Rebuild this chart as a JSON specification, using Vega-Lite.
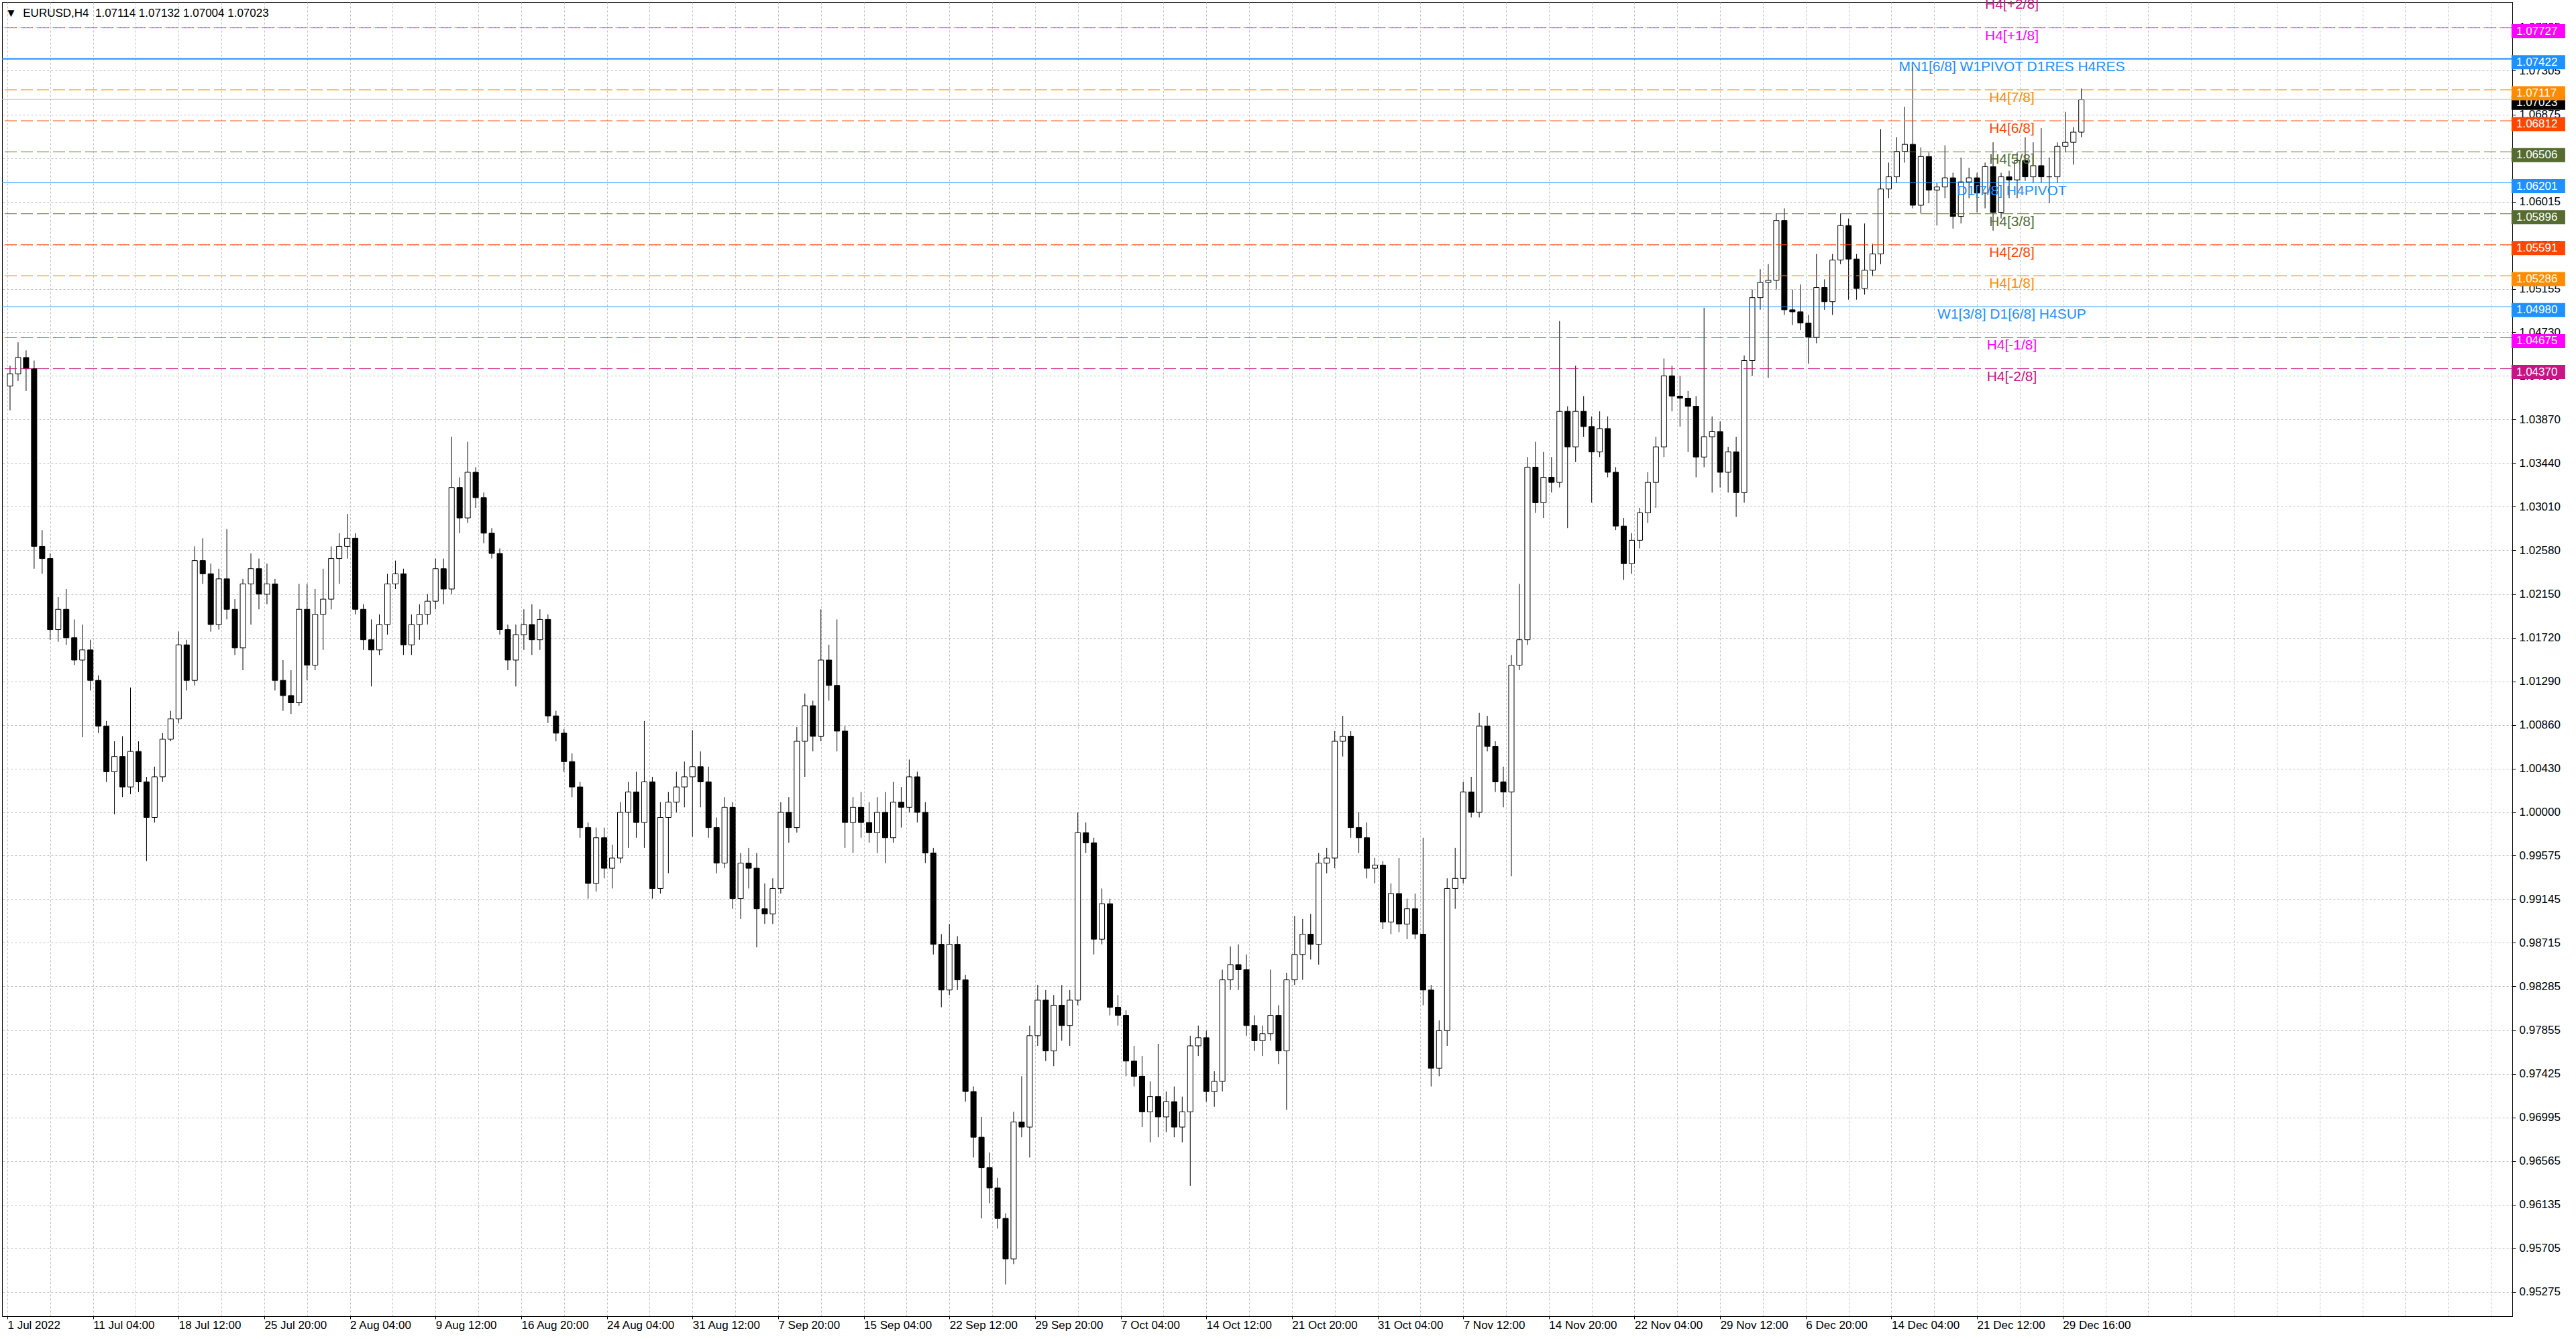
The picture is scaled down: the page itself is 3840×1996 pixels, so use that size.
{
"$schema": "https://vega.github.io/schema/vega-lite/v6.json",
"width": 3742,
"height": 1959,
"autosize": {"type": "none"},
"padding": {"left": 3, "top": 3, "right": 95, "bottom": 34},
"background": "white",
"title": {"text": "▼\u00a0\u00a0EURUSD,H4\u00a0\u00a01.07114 1.07132 1.07004 1.07023", "anchor": "start", "frame": "group", "orient": "top", "offset": -47, "baseline": "alphabetic", "dx": 5, "font": "Liberation Sans", "fontSize": 17, "fontWeight": "normal", "color": "black"},
"datasets": {
"levels": [
{"name": "+2/8", "price": 1.08032, "label": "H4[+2/8]", "kind": "dash"},
{"name": "+1/8", "price": 1.07727, "label": "H4[+1/8]", "kind": "dash"},
{"name": "8/8", "price": 1.07422, "label": "MN1[6/8] W1PIVOT D1RES H4RES", "kind": "solid"},
{"name": "7/8", "price": 1.07117, "label": "H4[7/8]", "kind": "dash"},
{"name": "6/8", "price": 1.06812, "label": "H4[6/8]", "kind": "dash"},
{"name": "5/8", "price": 1.06506, "label": "H4[5/8]", "kind": "dash"},
{"name": "4/8", "price": 1.06201, "label": "D1[7/8] H4PIVOT", "kind": "solid"},
{"name": "3/8", "price": 1.05896, "label": "H4[3/8]", "kind": "dash"},
{"name": "2/8", "price": 1.05591, "label": "H4[2/8]", "kind": "dash"},
{"name": "1/8", "price": 1.05286, "label": "H4[1/8]", "kind": "dash"},
{"name": "0/8", "price": 1.0498, "label": "W1[3/8] D1[6/8] H4SUP", "kind": "solid"},
{"name": "-1/8", "price": 1.04675, "label": "H4[-1/8]", "kind": "dash"},
{"name": "-2/8", "price": 1.0437, "label": "H4[-2/8]", "kind": "dash"}
],
"bid": [{"price": 1.07023}],
"candles": [
{"bar":1,"o":1.0420,"h":1.0440,"l":1.0396,"c":1.0432},
{"bar":4,"o":1.0432,"h":1.0463,"l":1.0425,"c":1.0448},
{"bar":7,"o":1.0448,"h":1.0455,"l":1.0415,"c":1.0437},
{"bar":10,"o":1.0437,"h":1.0445,"l":1.0240,"c":1.0262},
{"bar":13,"o":1.0262,"h":1.0278,"l":1.0235,"c":1.0250},
{"bar":16,"o":1.0250,"h":1.0255,"l":1.0170,"c":1.0180},
{"bar":19,"o":1.0180,"h":1.0212,"l":1.0168,"c":1.0200},
{"bar":22,"o":1.0200,"h":1.0220,"l":1.0165,"c":1.0172},
{"bar":25,"o":1.0172,"h":1.0190,"l":1.0145,"c":1.0150},
{"bar":28,"o":1.0150,"h":1.0185,"l":1.0074,"c":1.0160},
{"bar":31,"o":1.0160,"h":1.0170,"l":1.0120,"c":1.0130},
{"bar":34,"o":1.0130,"h":1.0135,"l":1.0078,"c":1.0085},
{"bar":37,"o":1.0085,"h":1.0090,"l":1.0030,"c":1.0040},
{"bar":40,"o":1.0040,"h":1.0070,"l":0.9998,"c":1.0055},
{"bar":43,"o":1.0055,"h":1.0075,"l":1.0015,"c":1.0025},
{"bar":46,"o":1.0025,"h":1.0123,"l":1.0018,"c":1.0060},
{"bar":49,"o":1.0060,"h":1.0070,"l":1.0020,"c":1.0030},
{"bar":52,"o":1.0030,"h":1.0035,"l":0.9952,"c":0.9995},
{"bar":55,"o":0.9995,"h":1.0045,"l":0.9990,"c":1.0035},
{"bar":58,"o":1.0035,"h":1.0078,"l":1.0030,"c":1.0072},
{"bar":61,"o":1.0072,"h":1.0100,"l":1.0070,"c":1.0092},
{"bar":64,"o":1.0092,"h":1.0178,"l":1.0088,"c":1.0165},
{"bar":67,"o":1.0165,"h":1.0170,"l":1.0120,"c":1.0130},
{"bar":70,"o":1.0130,"h":1.0262,"l":1.0125,"c":1.0248},
{"bar":73,"o":1.0248,"h":1.0270,"l":1.0225,"c":1.0235},
{"bar":76,"o":1.0235,"h":1.0245,"l":1.0178,"c":1.0185},
{"bar":79,"o":1.0185,"h":1.0240,"l":1.0180,"c":1.0230},
{"bar":82,"o":1.0230,"h":1.0279,"l":1.0190,"c":1.0200},
{"bar":85,"o":1.0200,"h":1.0210,"l":1.0155,"c":1.0162},
{"bar":88,"o":1.0162,"h":1.0230,"l":1.0140,"c":1.0225},
{"bar":91,"o":1.0225,"h":1.0255,"l":1.0185,"c":1.0240},
{"bar":94,"o":1.0240,"h":1.0250,"l":1.0200,"c":1.0215},
{"bar":97,"o":1.0215,"h":1.0245,"l":1.0205,"c":1.0225},
{"bar":100,"o":1.0225,"h":1.0230,"l":1.0120,"c":1.0130},
{"bar":103,"o":1.0130,"h":1.0150,"l":1.0100,"c":1.0115},
{"bar":106,"o":1.0115,"h":1.0140,"l":1.0097,"c":1.0108},
{"bar":109,"o":1.0108,"h":1.0225,"l":1.0105,"c":1.0200},
{"bar":112,"o":1.0200,"h":1.0225,"l":1.0130,"c":1.0145},
{"bar":115,"o":1.0145,"h":1.0220,"l":1.0140,"c":1.0195},
{"bar":118,"o":1.0195,"h":1.0240,"l":1.0160,"c":1.0210},
{"bar":121,"o":1.0210,"h":1.0262,"l":1.0200,"c":1.0250},
{"bar":124,"o":1.0250,"h":1.0275,"l":1.0225,"c":1.0262},
{"bar":127,"o":1.0262,"h":1.0294,"l":1.0250,"c":1.0270},
{"bar":130,"o":1.0270,"h":1.0275,"l":1.0195,"c":1.0200},
{"bar":133,"o":1.0200,"h":1.0205,"l":1.0160,"c":1.0170},
{"bar":136,"o":1.0170,"h":1.0190,"l":1.0124,"c":1.0160},
{"bar":139,"o":1.0160,"h":1.0195,"l":1.0155,"c":1.0185},
{"bar":142,"o":1.0185,"h":1.0235,"l":1.0175,"c":1.0225},
{"bar":145,"o":1.0225,"h":1.0248,"l":1.0220,"c":1.0235},
{"bar":148,"o":1.0235,"h":1.0240,"l":1.0155,"c":1.0165},
{"bar":151,"o":1.0165,"h":1.0195,"l":1.0155,"c":1.0185},
{"bar":154,"o":1.0185,"h":1.0205,"l":1.0170,"c":1.0195},
{"bar":157,"o":1.0195,"h":1.0215,"l":1.0185,"c":1.0208},
{"bar":160,"o":1.0208,"h":1.0250,"l":1.0200,"c":1.0240},
{"bar":163,"o":1.0240,"h":1.0250,"l":1.0205,"c":1.0220},
{"bar":166,"o":1.0220,"h":1.0370,"l":1.0215,"c":1.0320},
{"bar":169,"o":1.0320,"h":1.0330,"l":1.0275,"c":1.0290},
{"bar":172,"o":1.0290,"h":1.0365,"l":1.0285,"c":1.0335},
{"bar":175,"o":1.0335,"h":1.0340,"l":1.0300,"c":1.0310},
{"bar":178,"o":1.0310,"h":1.0315,"l":1.0265,"c":1.0275},
{"bar":181,"o":1.0275,"h":1.0280,"l":1.0250,"c":1.0255},
{"bar":184,"o":1.0255,"h":1.0260,"l":1.0175,"c":1.0180},
{"bar":187,"o":1.0180,"h":1.0185,"l":1.0140,"c":1.0150},
{"bar":190,"o":1.0150,"h":1.0185,"l":1.0124,"c":1.0175},
{"bar":193,"o":1.0175,"h":1.0200,"l":1.0160,"c":1.0185},
{"bar":196,"o":1.0185,"h":1.0205,"l":1.0155,"c":1.0170},
{"bar":199,"o":1.0170,"h":1.0200,"l":1.0160,"c":1.0190},
{"bar":202,"o":1.0190,"h":1.0195,"l":1.0088,"c":1.0095},
{"bar":205,"o":1.0095,"h":1.0100,"l":1.0070,"c":1.0078},
{"bar":208,"o":1.0078,"h":1.0082,"l":1.0040,"c":1.0050},
{"bar":211,"o":1.0050,"h":1.0058,"l":1.0015,"c":1.0025},
{"bar":214,"o":1.0025,"h":1.0030,"l":0.9975,"c":0.9985},
{"bar":217,"o":0.9985,"h":0.9990,"l":0.9915,"c":0.9930},
{"bar":220,"o":0.9930,"h":0.9985,"l":0.9922,"c":0.9975},
{"bar":223,"o":0.9975,"h":0.9985,"l":0.9935,"c":0.9945},
{"bar":226,"o":0.9945,"h":0.9968,"l":0.9925,"c":0.9955},
{"bar":229,"o":0.9955,"h":1.0010,"l":0.9950,"c":1.0000},
{"bar":232,"o":1.0000,"h":1.0030,"l":0.9965,"c":1.0020},
{"bar":235,"o":1.0020,"h":1.0040,"l":0.9975,"c":0.9990},
{"bar":238,"o":0.9990,"h":1.0090,"l":0.9965,"c":1.0030},
{"bar":241,"o":1.0030,"h":1.0035,"l":0.9915,"c":0.9925},
{"bar":244,"o":0.9925,"h":1.0010,"l":0.9920,"c":0.9995},
{"bar":247,"o":0.9995,"h":1.0020,"l":0.9940,"c":1.0010},
{"bar":250,"o":1.0010,"h":1.0040,"l":1.0000,"c":1.0025},
{"bar":253,"o":1.0025,"h":1.0050,"l":1.0005,"c":1.0035},
{"bar":256,"o":1.0035,"h":1.0081,"l":0.9976,"c":1.0045},
{"bar":259,"o":1.0045,"h":1.0060,"l":1.0005,"c":1.0030},
{"bar":262,"o":1.0030,"h":1.0045,"l":0.9975,"c":0.9985},
{"bar":265,"o":0.9985,"h":0.9995,"l":0.9940,"c":0.9950},
{"bar":268,"o":0.9950,"h":1.0015,"l":0.9945,"c":1.0005},
{"bar":271,"o":1.0005,"h":1.0010,"l":0.9905,"c":0.9915},
{"bar":274,"o":0.9915,"h":0.9960,"l":0.9895,"c":0.9950},
{"bar":277,"o":0.9950,"h":0.9965,"l":0.9925,"c":0.9945},
{"bar":280,"o":0.9945,"h":0.9960,"l":0.9867,"c":0.9905},
{"bar":283,"o":0.9905,"h":0.9930,"l":0.9890,"c":0.9900},
{"bar":286,"o":0.9900,"h":0.9935,"l":0.9890,"c":0.9925},
{"bar":289,"o":0.9925,"h":1.0010,"l":0.9920,"c":1.0000},
{"bar":292,"o":1.0000,"h":1.0015,"l":0.9970,"c":0.9985},
{"bar":295,"o":0.9985,"h":1.0084,"l":0.9980,"c":1.0070},
{"bar":298,"o":1.0070,"h":1.0117,"l":1.0035,"c":1.0105},
{"bar":301,"o":1.0105,"h":1.0110,"l":1.0060,"c":1.0075},
{"bar":304,"o":1.0075,"h":1.0200,"l":1.0070,"c":1.0150},
{"bar":307,"o":1.0150,"h":1.0165,"l":1.0110,"c":1.0125},
{"bar":310,"o":1.0125,"h":1.0190,"l":1.0060,"c":1.0080},
{"bar":313,"o":1.0080,"h":1.0085,"l":0.9965,"c":0.9990},
{"bar":316,"o":0.9990,"h":1.0015,"l":0.9960,"c":1.0005},
{"bar":319,"o":1.0005,"h":1.0020,"l":0.9975,"c":0.9990},
{"bar":322,"o":0.9990,"h":1.0010,"l":0.9970,"c":0.9980},
{"bar":325,"o":0.9980,"h":1.0015,"l":0.9960,"c":1.0000},
{"bar":328,"o":1.0000,"h":1.0020,"l":0.9950,"c":0.9975},
{"bar":331,"o":0.9975,"h":1.0030,"l":0.9970,"c":1.0010},
{"bar":334,"o":1.0010,"h":1.0025,"l":0.9985,"c":1.0005},
{"bar":337,"o":1.0005,"h":1.0052,"l":1.0000,"c":1.0035},
{"bar":340,"o":1.0035,"h":1.0040,"l":0.9990,"c":1.0000},
{"bar":343,"o":1.0000,"h":1.0010,"l":0.9950,"c":0.9960},
{"bar":346,"o":0.9960,"h":0.9965,"l":0.9860,"c":0.9870},
{"bar":349,"o":0.9870,"h":0.9880,"l":0.9808,"c":0.9825},
{"bar":352,"o":0.9825,"h":0.9890,"l":0.9820,"c":0.9870},
{"bar":355,"o":0.9870,"h":0.9878,"l":0.9825,"c":0.9835},
{"bar":358,"o":0.9835,"h":0.9840,"l":0.9715,"c":0.9725},
{"bar":361,"o":0.9725,"h":0.9730,"l":0.9660,"c":0.9680},
{"bar":364,"o":0.9680,"h":0.9700,"l":0.9600,"c":0.9650},
{"bar":367,"o":0.9650,"h":0.9665,"l":0.9615,"c":0.9630},
{"bar":370,"o":0.9630,"h":0.9640,"l":0.9590,"c":0.9600},
{"bar":373,"o":0.9600,"h":0.9605,"l":0.9535,"c":0.9560},
{"bar":376,"o":0.9560,"h":0.9705,"l":0.9555,"c":0.9695},
{"bar":379,"o":0.9695,"h":0.9740,"l":0.9680,"c":0.9690},
{"bar":382,"o":0.9690,"h":0.9790,"l":0.9660,"c":0.9780},
{"bar":385,"o":0.9780,"h":0.9830,"l":0.9770,"c":0.9815},
{"bar":388,"o":0.9815,"h":0.9825,"l":0.9755,"c":0.9765},
{"bar":391,"o":0.9765,"h":0.9820,"l":0.9750,"c":0.9810},
{"bar":394,"o":0.9810,"h":0.9830,"l":0.9775,"c":0.9790},
{"bar":397,"o":0.9790,"h":0.9825,"l":0.9770,"c":0.9815},
{"bar":400,"o":0.9815,"h":1.0000,"l":0.9810,"c":0.9980},
{"bar":403,"o":0.9980,"h":0.9990,"l":0.9960,"c":0.9970},
{"bar":406,"o":0.9970,"h":0.9975,"l":0.9860,"c":0.9875},
{"bar":409,"o":0.9875,"h":0.9925,"l":0.9870,"c":0.9910},
{"bar":412,"o":0.9910,"h":0.9915,"l":0.9800,"c":0.9808},
{"bar":415,"o":0.9808,"h":0.9820,"l":0.9790,"c":0.9800},
{"bar":418,"o":0.9800,"h":0.9805,"l":0.9740,"c":0.9755},
{"bar":421,"o":0.9755,"h":0.9770,"l":0.9730,"c":0.9740},
{"bar":424,"o":0.9740,"h":0.9760,"l":0.9690,"c":0.9705},
{"bar":427,"o":0.9705,"h":0.9735,"l":0.9675,"c":0.9720},
{"bar":430,"o":0.9720,"h":0.9772,"l":0.9680,"c":0.9700},
{"bar":433,"o":0.9700,"h":0.9725,"l":0.9685,"c":0.9715},
{"bar":436,"o":0.9715,"h":0.9730,"l":0.9680,"c":0.9690},
{"bar":439,"o":0.9690,"h":0.9720,"l":0.9675,"c":0.9705},
{"bar":442,"o":0.9705,"h":0.9780,"l":0.9632,"c":0.9770},
{"bar":445,"o":0.9770,"h":0.9790,"l":0.9760,"c":0.9778},
{"bar":448,"o":0.9778,"h":0.9785,"l":0.9715,"c":0.9725},
{"bar":451,"o":0.9725,"h":0.9745,"l":0.9710,"c":0.9735},
{"bar":454,"o":0.9735,"h":0.9845,"l":0.9725,"c":0.9835},
{"bar":457,"o":0.9835,"h":0.9868,"l":0.9825,"c":0.9850},
{"bar":460,"o":0.9850,"h":0.9870,"l":0.9825,"c":0.9845},
{"bar":463,"o":0.9845,"h":0.9860,"l":0.9780,"c":0.9790},
{"bar":466,"o":0.9790,"h":0.9800,"l":0.9765,"c":0.9775},
{"bar":469,"o":0.9775,"h":0.9790,"l":0.9760,"c":0.9782},
{"bar":472,"o":0.9782,"h":0.9845,"l":0.9775,"c":0.9800},
{"bar":475,"o":0.9800,"h":0.9810,"l":0.9752,"c":0.9765},
{"bar":478,"o":0.9765,"h":0.9842,"l":0.9707,"c":0.9835},
{"bar":481,"o":0.9835,"h":0.9898,"l":0.9830,"c":0.9860},
{"bar":484,"o":0.9860,"h":0.9895,"l":0.9835,"c":0.9880},
{"bar":487,"o":0.9880,"h":0.9900,"l":0.9855,"c":0.9870},
{"bar":490,"o":0.9870,"h":0.9960,"l":0.9850,"c":0.9950},
{"bar":493,"o":0.9950,"h":0.9965,"l":0.9940,"c":0.9955},
{"bar":496,"o":0.9955,"h":1.0080,"l":0.9945,"c":1.0070},
{"bar":499,"o":1.0070,"h":1.0095,"l":1.0055,"c":1.0075},
{"bar":502,"o":1.0075,"h":1.0080,"l":0.9975,"c":0.9985},
{"bar":505,"o":0.9985,"h":1.0000,"l":0.9960,"c":0.9975},
{"bar":508,"o":0.9975,"h":0.9990,"l":0.9935,"c":0.9945},
{"bar":511,"o":0.9945,"h":0.9955,"l":0.9930,"c":0.9948},
{"bar":514,"o":0.9948,"h":0.9952,"l":0.9885,"c":0.9892},
{"bar":517,"o":0.9892,"h":0.9930,"l":0.9880,"c":0.9920},
{"bar":520,"o":0.9920,"h":0.9955,"l":0.9882,"c":0.9890},
{"bar":523,"o":0.9890,"h":0.9915,"l":0.9875,"c":0.9905},
{"bar":526,"o":0.9905,"h":0.9920,"l":0.9875,"c":0.9880},
{"bar":529,"o":0.9880,"h":0.9975,"l":0.9810,"c":0.9825},
{"bar":532,"o":0.9825,"h":0.9830,"l":0.9730,"c":0.9748},
{"bar":535,"o":0.9748,"h":0.9795,"l":0.9740,"c":0.9785},
{"bar":538,"o":0.9785,"h":0.9935,"l":0.9770,"c":0.9925},
{"bar":541,"o":0.9925,"h":0.9965,"l":0.9905,"c":0.9935},
{"bar":544,"o":0.9935,"h":1.0030,"l":0.9930,"c":1.0020},
{"bar":547,"o":1.0020,"h":1.0035,"l":0.9995,"c":1.0000},
{"bar":550,"o":1.0000,"h":1.0098,"l":0.9995,"c":1.0085},
{"bar":553,"o":1.0085,"h":1.0095,"l":1.0060,"c":1.0065},
{"bar":556,"o":1.0065,"h":1.0070,"l":1.0020,"c":1.0030},
{"bar":559,"o":1.0030,"h":1.0045,"l":1.0005,"c":1.0020},
{"bar":562,"o":1.0020,"h":1.0155,"l":0.9937,"c":1.0145},
{"bar":565,"o":1.0145,"h":1.0225,"l":1.0140,"c":1.0170},
{"bar":568,"o":1.0170,"h":1.0350,"l":1.0165,"c":1.0340},
{"bar":571,"o":1.0340,"h":1.0365,"l":1.0295,"c":1.0305},
{"bar":574,"o":1.0305,"h":1.0355,"l":1.0290,"c":1.0330},
{"bar":577,"o":1.0330,"h":1.0350,"l":1.0315,"c":1.0325},
{"bar":580,"o":1.0325,"h":1.0484,"l":1.0320,"c":1.0395},
{"bar":583,"o":1.0395,"h":1.0400,"l":1.0280,"c":1.0360},
{"bar":586,"o":1.0360,"h":1.0440,"l":1.0345,"c":1.0395},
{"bar":589,"o":1.0395,"h":1.0410,"l":1.0370,"c":1.0380},
{"bar":592,"o":1.0380,"h":1.0390,"l":1.0305,"c":1.0355},
{"bar":595,"o":1.0355,"h":1.0395,"l":1.0350,"c":1.0378},
{"bar":598,"o":1.0378,"h":1.0390,"l":1.0330,"c":1.0335},
{"bar":601,"o":1.0335,"h":1.0340,"l":1.0278,"c":1.0282},
{"bar":604,"o":1.0282,"h":1.0290,"l":1.0229,"c":1.0245},
{"bar":607,"o":1.0245,"h":1.0275,"l":1.0235,"c":1.0268},
{"bar":610,"o":1.0268,"h":1.0300,"l":1.0260,"c":1.0295},
{"bar":613,"o":1.0295,"h":1.0335,"l":1.0285,"c":1.0325},
{"bar":616,"o":1.0325,"h":1.0370,"l":1.0300,"c":1.0360},
{"bar":619,"o":1.0360,"h":1.0447,"l":1.0350,"c":1.0430},
{"bar":622,"o":1.0430,"h":1.0440,"l":1.0395,"c":1.0410},
{"bar":625,"o":1.0410,"h":1.0430,"l":1.0380,"c":1.0408},
{"bar":628,"o":1.0408,"h":1.0415,"l":1.0355,"c":1.0400},
{"bar":631,"o":1.0400,"h":1.0410,"l":1.0330,"c":1.0350},
{"bar":634,"o":1.0350,"h":1.0497,"l":1.0340,"c":1.0370},
{"bar":637,"o":1.0370,"h":1.0390,"l":1.0315,"c":1.0375},
{"bar":640,"o":1.0375,"h":1.0385,"l":1.0320,"c":1.0335},
{"bar":643,"o":1.0335,"h":1.0360,"l":1.0315,"c":1.0355},
{"bar":646,"o":1.0355,"h":1.0370,"l":1.0291,"c":1.0315},
{"bar":649,"o":1.0315,"h":1.0450,"l":1.0305,"c":1.0445},
{"bar":652,"o":1.0445,"h":1.0515,"l":1.0430,"c":1.0507},
{"bar":655,"o":1.0507,"h":1.0535,"l":1.0495,"c":1.0522},
{"bar":658,"o":1.0522,"h":1.0540,"l":1.0428,"c":1.0524},
{"bar":661,"o":1.0524,"h":1.0590,"l":1.0515,"c":1.0583},
{"bar":664,"o":1.0583,"h":1.0595,"l":1.0490,"c":1.0495},
{"bar":667,"o":1.0495,"h":1.0515,"l":1.0480,"c":1.0493},
{"bar":670,"o":1.0493,"h":1.0520,"l":1.0475,"c":1.0482},
{"bar":673,"o":1.0482,"h":1.0490,"l":1.0442,"c":1.0468},
{"bar":676,"o":1.0468,"h":1.0550,"l":1.0462,"c":1.0517},
{"bar":679,"o":1.0517,"h":1.0525,"l":1.0495,"c":1.0503},
{"bar":682,"o":1.0503,"h":1.0550,"l":1.0490,"c":1.0544},
{"bar":685,"o":1.0544,"h":1.0590,"l":1.0540,"c":1.0578},
{"bar":688,"o":1.0578,"h":1.0585,"l":1.0505,"c":1.0545},
{"bar":691,"o":1.0545,"h":1.0550,"l":1.0505,"c":1.0516},
{"bar":694,"o":1.0516,"h":1.0580,"l":1.0510,"c":1.0534},
{"bar":697,"o":1.0534,"h":1.0560,"l":1.0528,"c":1.0550},
{"bar":700,"o":1.0550,"h":1.0673,"l":1.0540,"c":1.0614},
{"bar":703,"o":1.0614,"h":1.0640,"l":1.0605,"c":1.0626},
{"bar":706,"o":1.0626,"h":1.0665,"l":1.0620,"c":1.0651},
{"bar":709,"o":1.0651,"h":1.0695,"l":1.0640,"c":1.0658},
{"bar":712,"o":1.0658,"h":1.0734,"l":1.0595,"c":1.0598},
{"bar":715,"o":1.0598,"h":1.0655,"l":1.0590,"c":1.0646},
{"bar":718,"o":1.0646,"h":1.0650,"l":1.0600,"c":1.0613},
{"bar":721,"o":1.0613,"h":1.0620,"l":1.0578,"c":1.0616},
{"bar":724,"o":1.0616,"h":1.0657,"l":1.0605,"c":1.0625},
{"bar":727,"o":1.0625,"h":1.0630,"l":1.0575,"c":1.0587},
{"bar":730,"o":1.0587,"h":1.0645,"l":1.0580,"c":1.0621},
{"bar":733,"o":1.0621,"h":1.0635,"l":1.0605,"c":1.0625},
{"bar":736,"o":1.0625,"h":1.0630,"l":1.0591,"c":1.0610},
{"bar":739,"o":1.0610,"h":1.0640,"l":1.0595,"c":1.0636},
{"bar":742,"o":1.0636,"h":1.0660,"l":1.0573,"c":1.0591},
{"bar":745,"o":1.0591,"h":1.0630,"l":1.0585,"c":1.0626},
{"bar":748,"o":1.0626,"h":1.0632,"l":1.0605,"c":1.0623},
{"bar":751,"o":1.0623,"h":1.0650,"l":1.0605,"c":1.0642},
{"bar":754,"o":1.0642,"h":1.0665,"l":1.0622,"c":1.0626},
{"bar":757,"o":1.0626,"h":1.0660,"l":1.0620,"c":1.0637},
{"bar":760,"o":1.0637,"h":1.0674,"l":1.0620,"c":1.0626},
{"bar":763,"o":1.0626,"h":1.0645,"l":1.0600,"c":1.0626},
{"bar":766,"o":1.0626,"h":1.0660,"l":1.0620,"c":1.0656},
{"bar":769,"o":1.0656,"h":1.0690,"l":1.0650,"c":1.0660},
{"bar":772,"o":1.0660,"h":1.0675,"l":1.0638,"c":1.0670},
{"bar":775,"o":1.0670,"h":1.0713,"l":1.0665,"c":1.0702}
]
},
"layer": [
{
"data": {"name": "candles"},
"mark": {"type": "rule", "color": "black", "strokeWidth": 1},
"encoding": {
"x": {"field": "bar", "type": "quantitative",
"scale": {"domain": [-0.75, 934.75], "nice": false, "zero": false},
"axis": {"orient": "bottom", "title": null,
"values": [0,16,32,48,64,80,96,112,128,144,160,176,192,208,224,240,256,272,288,304,320,336,352,368,384,400,416,432,448,464,480,496,512,528,544,560,576,592,608,624,640,656,672,688,704,720,736,752,768,784,800,816,832,848,864,880,896,912,928],
"labelExpr": "datum.value % 32 === 0 && datum.value <= 768 ? ['1 Jul 2022','11 Jul 04:00','18 Jul 12:00','25 Jul 20:00','2 Aug 04:00','9 Aug 12:00','16 Aug 20:00','24 Aug 04:00','31 Aug 12:00','7 Sep 20:00','15 Sep 04:00','22 Sep 12:00','29 Sep 20:00','7 Oct 04:00','14 Oct 12:00','21 Oct 20:00','31 Oct 04:00','7 Nov 12:00','14 Nov 20:00','22 Nov 04:00','29 Nov 12:00','6 Dec 20:00','14 Dec 04:00','21 Dec 12:00','29 Dec 16:00'][datum.value / 32] : ''",
"tickOpacity": {"condition": {"test": "datum.value % 32 === 0 && datum.value <= 768", "value": 1}, "value": 0},
"labelAlign": "left", "labelBaseline": "top", "labelPadding": 1, "labelOverlap": false, "labelFlush": false, "labelBound": false,
"labelFont": "Liberation Sans", "labelFontSize": 17, "labelColor": "black",
"tickSize": 4, "tickColor": "black", "domainColor": "black",
"grid": true, "gridColor": "#c0c0c0", "gridDash": [3, 3], "gridWidth": 1}},
"y": {"field": "l", "type": "quantitative",
"scale": {"domain": [0.95037, 1.07982], "nice": false, "zero": false},
"axis": {"orient": "right", "title": null,
"values": [0.95275,0.95705,0.96135,0.96565,0.96995,0.97425,0.97855,0.98285,0.98715,0.99145,0.99575,1.0,1.0043,1.0086,1.0129,1.0172,1.0215,1.0258,1.0301,1.0344,1.0387,1.043,1.0473,1.05155,1.05585,1.06015,1.06445,1.06875,1.07305,1.07735],
"format": ".5f", "labelFont": "Liberation Sans", "labelFontSize": 17, "labelColor": "black",
"labelPadding": 5, "tickSize": 5, "tickColor": "black", "domainColor": "black", "labelOverlap": false, "labelBound": false, "labelFlush": false,
"grid": true, "gridColor": "#c0c0c0", "gridDash": [3, 3], "gridWidth": 1}},
"y2": {"field": "h"}
}
},
{
"data": {"name": "candles"},
"mark": {"type": "bar", "width": 8, "stroke": "black", "strokeWidth": 1},
"encoding": {
"x": {"field": "bar", "type": "quantitative", "scale": {"domain": [-0.75, 934.75], "nice": false, "zero": false}},
"y": {"field": "o", "type": "quantitative", "scale": {"domain": [0.95037, 1.07982], "nice": false, "zero": false}},
"y2": {"field": "c"},
"fill": {"condition": {"test": "datum.o > datum.c", "value": "black"}, "value": "white"}
}
},
{
"data": {"name": "bid"},
"mark": {"type": "rule", "color": "#c0c0c0", "strokeWidth": 1},
"encoding": {
"y": {"field": "price", "type": "quantitative", "scale": {"domain": [0.95037, 1.07982], "nice": false, "zero": false}}
}
},
{
"data": {"name": "levels"},
"transform": [{"filter": "datum.kind === 'dash'"}],
"mark": {"type": "rule", "strokeWidth": 1, "strokeDash": [18, 6]},
"encoding": {
"y": {"field": "price", "type": "quantitative", "scale": {"domain": [0.95037, 1.07982], "nice": false, "zero": false}},
"color": {"field": "name", "type": "nominal", "legend": null,
"scale": {"domain": ["+2/8","+1/8","8/8","7/8","6/8","5/8","4/8","3/8","2/8","1/8","0/8","-1/8","-2/8"],
"range": ["#c71585","#ff00ff","#1e90ff","#ff8c00","#ff4500","#556b2f","#1e90ff","#556b2f","#ff4500","#ff8c00","#1e90ff","#ff00ff","#c71585"]}}
}
},
{
"data": {"name": "levels"},
"transform": [{"filter": "datum.kind === 'solid'"}],
"mark": {"type": "rule"},
"encoding": {
"y": {"field": "price", "type": "quantitative", "scale": {"domain": [0.95037, 1.07982], "nice": false, "zero": false}},
"strokeWidth": {"condition": {"test": "datum.name === '8/8'", "value": 2}, "value": 1},
"color": {"field": "name", "type": "nominal", "legend": null,
"scale": {"domain": ["+2/8","+1/8","8/8","7/8","6/8","5/8","4/8","3/8","2/8","1/8","0/8","-1/8","-2/8"],
"range": ["#c71585","#ff00ff","#1e90ff","#ff8c00","#ff4500","#556b2f","#1e90ff","#556b2f","#ff4500","#ff8c00","#1e90ff","#ff00ff","#c71585"]}}
}
},
{
"data": {"name": "levels"},
"mark": {"type": "text", "align": "center", "baseline": "middle", "dy": 12, "font": "Liberation Sans", "fontSize": 21},
"encoding": {
"x": {"datum": 749, "type": "quantitative", "scale": {"domain": [-0.75, 934.75], "nice": false, "zero": false}},
"y": {"field": "price", "type": "quantitative", "scale": {"domain": [0.95037, 1.07982], "nice": false, "zero": false}},
"text": {"field": "label"},
"color": {"field": "name", "type": "nominal", "legend": null,
"scale": {"domain": ["+2/8","+1/8","8/8","7/8","6/8","5/8","4/8","3/8","2/8","1/8","0/8","-1/8","-2/8"],
"range": ["#c71585","#ff00ff","#1e90ff","#ff8c00","#ff4500","#556b2f","#1e90ff","#556b2f","#ff4500","#ff8c00","#1e90ff","#ff00ff","#c71585"]}}
}
},
{
"data": {"name": "bid"},
"mark": {"type": "tick", "orient": "horizontal", "size": 80, "thickness": 21, "color": "black", "opacity": 1, "yOffset": 5},
"encoding": {
"x": {"datum": 945.75, "type": "quantitative", "scale": {"domain": [-0.75, 934.75], "nice": false, "zero": false}},
"y": {"field": "price", "type": "quantitative", "scale": {"domain": [0.95037, 1.07982], "nice": false, "zero": false}}
}
},
{
"data": {"name": "bid"},
"mark": {"type": "text", "align": "left", "baseline": "middle", "dy": 5, "font": "Liberation Sans", "fontSize": 17, "color": "white"},
"encoding": {
"x": {"datum": 937.5, "type": "quantitative", "scale": {"domain": [-0.75, 934.75], "nice": false, "zero": false}},
"y": {"field": "price", "type": "quantitative", "scale": {"domain": [0.95037, 1.07982], "nice": false, "zero": false}},
"text": {"field": "price", "format": ".5f"}
}
},
{
"data": {"name": "levels"},
"transform": [{"filter": "datum.name !== '+2/8'"}],
"mark": {"type": "tick", "orient": "horizontal", "size": 80, "thickness": 21, "opacity": 1, "yOffset": 5},
"encoding": {
"x": {"datum": 945.75, "type": "quantitative", "scale": {"domain": [-0.75, 934.75], "nice": false, "zero": false}},
"y": {"field": "price", "type": "quantitative", "scale": {"domain": [0.95037, 1.07982], "nice": false, "zero": false}},
"color": {"field": "name", "type": "nominal", "legend": null,
"scale": {"domain": ["+2/8","+1/8","8/8","7/8","6/8","5/8","4/8","3/8","2/8","1/8","0/8","-1/8","-2/8"],
"range": ["#c71585","#ff00ff","#1e90ff","#ff8c00","#ff4500","#556b2f","#1e90ff","#556b2f","#ff4500","#ff8c00","#1e90ff","#ff00ff","#c71585"]}}
}
},
{
"data": {"name": "levels"},
"transform": [{"filter": "datum.name !== '+2/8'"}],
"mark": {"type": "text", "align": "left", "baseline": "middle", "dy": 5, "font": "Liberation Sans", "fontSize": 17, "color": "white"},
"encoding": {
"x": {"datum": 937.5, "type": "quantitative", "scale": {"domain": [-0.75, 934.75], "nice": false, "zero": false}},
"y": {"field": "price", "type": "quantitative", "scale": {"domain": [0.95037, 1.07982], "nice": false, "zero": false}},
"text": {"field": "price", "format": ".5f"}
}
}
],
"config": {"view": {"stroke": "black", "strokeWidth": 1}}
}
